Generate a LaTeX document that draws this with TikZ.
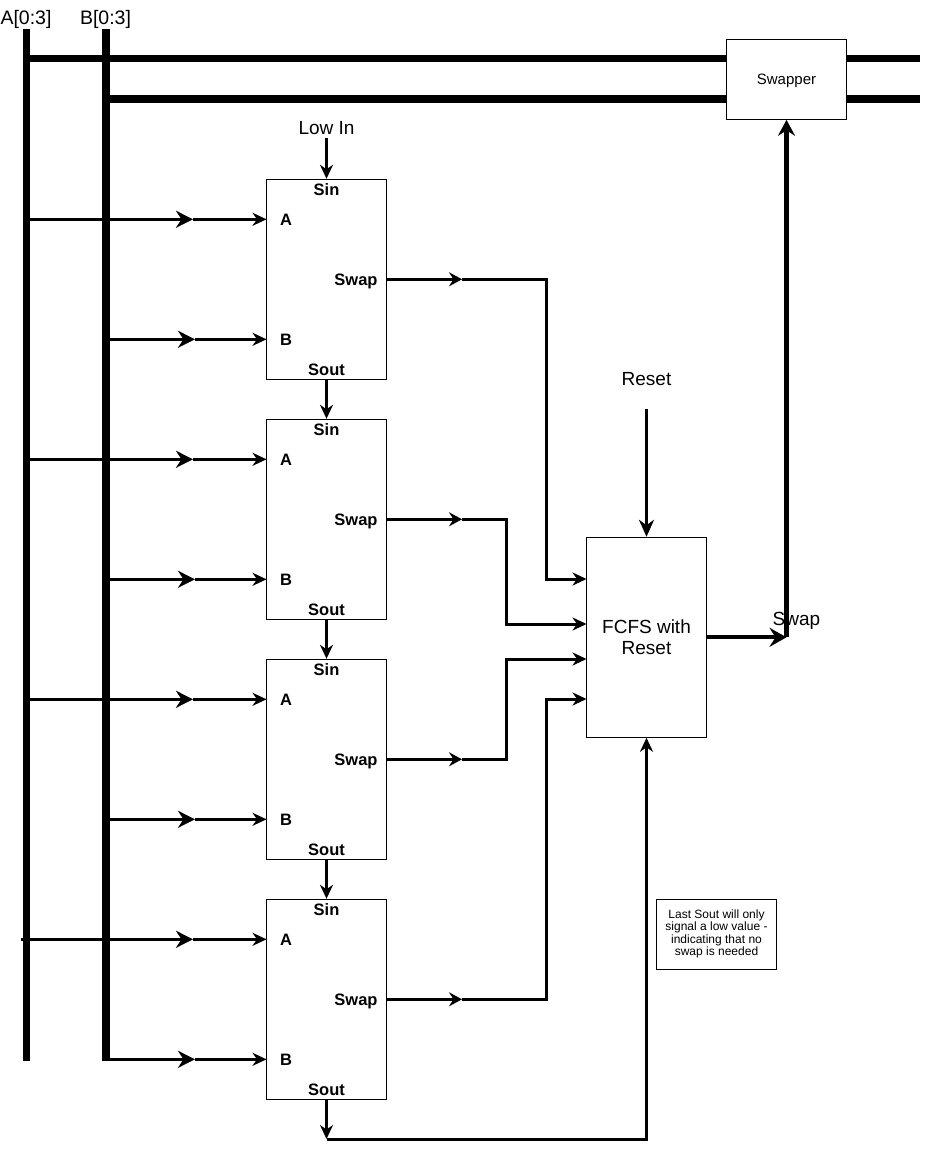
\documentclass[tikz,border=0pt]{standalone}
\usepackage{fontspec}
\setmainfont{Liberation Sans}
\usetikzlibrary{arrows.meta}
\begin{document}
\begin{tikzpicture}[x=1pt,y=-1pt,
  bus/.style={line width=7.5pt},
  wire/.style={line width=3pt},
  thick wire/.style={line width=4.3pt},
  tipA/.style={-{Stealth[length=17pt,width=17pt,inset=5.5pt]}},
  tipB/.style={-{Stealth[length=14pt,width=13pt,inset=4.5pt]}},
  tipC/.style={-{Stealth[length=13pt,width=14pt,inset=4.5pt]}},
  tipD/.style={-{Stealth[length=17pt,width=19pt,inset=6pt]}},
  box/.style={draw,line width=1pt,fill=white,inner sep=0pt},
  blk/.style={box,minimum width=120pt,minimum height=200pt},
  lbl/.style={anchor=base,inner sep=0pt,font=\fontsize{16.5}{20}\selectfont\bfseries},
  big/.style={anchor=base,inner sep=0pt,font=\fontsize{19}{21}\selectfont},
]
\useasboundingbox (0,0) rectangle (926,1150);

% buses
\coordinate (At) at (26.7,29);
\coordinate (Ab) at (26.7,1061);
\coordinate (Bt) at (106,29);
\coordinate (Bb) at (106,1061);
\node[big,font=\fontsize{19.5}{21}\selectfont] (alabel) at (26,25) {A[0:3]};
\node[big,font=\fontsize{19.5}{21}\selectfont] (blabel) at (105.5,25) {B[0:3]};

\node[box,minimum width=120pt,minimum height=80pt] (swp) at (786.5,79.3) {};
\node[anchor=base,inner sep=0pt,font=\fontsize{15}{17}\selectfont] (swpt) at (786.5,85) {Swapper};

\coordinate (h1) at (26.7,58.5);
\coordinate (h2) at (106,99);
\coordinate (h1e) at (920,58.5);
\coordinate (h2e) at (920,99);
\draw[bus] (At) -- (Ab);
\draw[bus] (Bt) -- (Bb);
\draw[bus] (h1) -- (h1 -| swp.west);
\draw[bus] (h1 -| swp.east) -- (h1e);
\draw[bus] (h2) -- (h2 -| swp.west);
\draw[bus] (h2 -| swp.east) -- (h2e);

% blocks
\node[blk] (b1) at (326.5,279.3) {};
\node[blk] (b2) at (326.5,519.3) {};
\node[blk] (b3) at (326.5,759.3) {};
\node[blk] (b4) at (326.5,999.3) {};

\node[box,minimum width=120pt,minimum height=200pt,align=center,font=\fontsize{19}{21}\selectfont] (fcfs) at (646.5,637.3) {FCFS with\\Reset};

\foreach \k/\ax/\cx/\dy in {1/26.7/546.7/579, 2/26.7/506/624, 3/26.7/506/659, 4/21/546.7/699} {
  \pgfmathsetmacro\T{179.3+240*(\k-1)}
  \node[lbl] (sin\k) at (326.5,\T+16) {Sin};
  \node[lbl] (la\k) at (286,\T+46) {A};
  \node[lbl] (lswap\k) at (356,\T+106) {Swap};
  \node[lbl] (lb\k) at (286,\T+166) {B};
  \node[lbl] (sout\k) at (326.5,\T+196) {Sout};
  % A input
  \coordinate (atap\k) at (\ax,\T+40);
  \coordinate (amid\k) at (193,\T+40);
  \coordinate (ain\k) at (266.5,\T+40);
  \draw[wire,tipA] (atap\k) -- (amid\k);
  \draw[wire,tipB] (amid\k) -- (ain\k);
  % B input
  \coordinate (btap\k) at (106,\T+160);
  \coordinate (bmid\k) at (195,\T+160);
  \coordinate (bin\k) at (266.5,\T+160);
  \draw[wire,tipA] (btap\k) -- (bmid\k);
  \draw[wire,tipB] (bmid\k) -- (bin\k);
  % swap output
  \coordinate (sw\k) at (386.5,\T+100);
  \coordinate (swm\k) at (462,\T+100);
  \coordinate (swc\k) at (\cx,\T+100);
  \coordinate (swd\k) at (\cx,\dy);
  \coordinate (swe\k) at (586.5,\dy);
  \draw[wire,tipC] (sw\k) -- (swm\k);
  \draw[wire,tipB] (swm\k) -- (swc\k) -- (swd\k) -- (swe\k);
}

% serial chain
\node[big] (lowin) at (326.5,135) {Low In};
\coordinate (lowinc) at (326.5,138);
\draw[wire,tipB] (lowinc) -- (b1.north);
\draw[wire,tipB] (b1.south) -- (b2.north);
\draw[wire,tipB] (b2.south) -- (b3.north);
\draw[wire,tipB] (b3.south) -- (b4.north);
\coordinate (ret1) at (326.5,1139);
\coordinate (ret2) at (646.5,1139);
\draw[wire,tipB] (b4.south) -- (ret1);
\draw[wire,tipB] (ret1) -- (ret2) -- (fcfs.south);

% reset
\node[big] (reset) at (646.5,385) {Reset};
\coordinate (rs) at (646.5,409);
\draw[wire,-{Stealth[length=17pt,width=15pt,inset=5.5pt]}] (rs) -- (fcfs.north);

% output
\node[big] (swaplbl) at (796.5,625) {Swap};
\coordinate (oc) at (786.5,637.3);
\draw[thick wire,tipD] (fcfs.east) -- (oc);
\draw[thick wire,-{Stealth[length=16pt,width=17pt,inset=5.5pt]}] (oc) -- (swp.south);

% note
\node[draw,line width=1pt,minimum width=120pt,minimum height=70pt,align=center,inner sep=0pt,font=\fontsize{12}{12.3}\selectfont] (note) at (716.5,934) {Last Sout will only\\signal a low value -\\indicating that no\\swap is needed};
\end{tikzpicture}
\end{document}
